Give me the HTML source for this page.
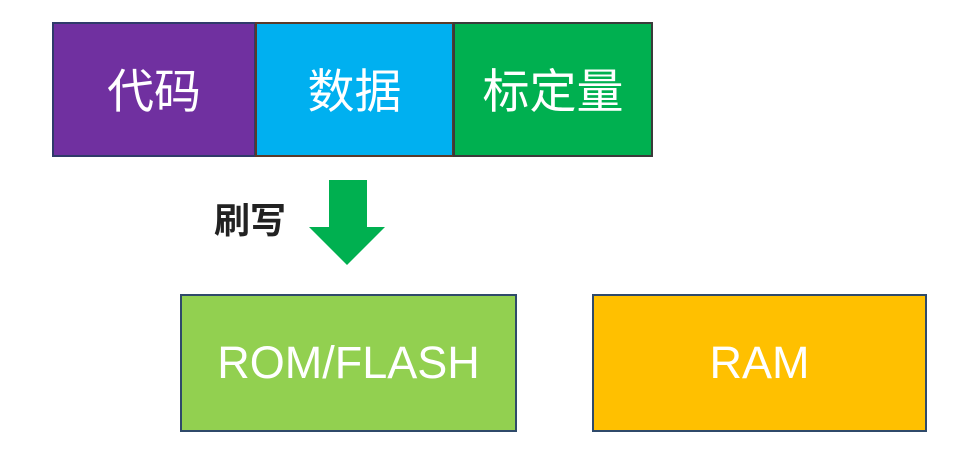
<!DOCTYPE html>
<html><head><meta charset="utf-8"><style>
body{margin:0;width:970px;height:457px;background:#fff;position:relative;overflow:hidden;font-family:"Liberation Sans","Noto Sans CJK SC",sans-serif}
.b{position:absolute;box-sizing:border-box;display:flex;align-items:center;justify-content:center;color:#fff}
.t{font-size:47px;padding-bottom:4px}
</style></head><body>
<div class="b t" style="left:52px;top:22px;width:204px;height:135px;background:#7030a0;border:2px solid #2f3a6a;">代码</div>
<div class="b t" style="left:255px;top:22px;width:199px;height:135px;background:#00b0f0;border:2px solid #5a3a2a;">数据</div>
<div class="b t" style="left:453px;top:22px;width:200px;height:135px;background:#00b050;border:2px solid #3a3a3a;">标定量</div>
<div style="position:absolute;left:214px;top:192px;font-size:36px;font-weight:bold;color:#222">刷写</div>
<svg style="position:absolute;left:0;top:0" width="970" height="457"><polygon points="329,180 367,180 367,227 385,227 347,265 309,227 329,227" fill="#00b050"/></svg>
<div class="b" style="left:180px;top:294px;width:337px;height:138px;background:#92d050;border:2px solid #2f4a6a;font-size:45px">ROM/FLASH</div>
<div class="b" style="left:592px;top:294px;width:335px;height:138px;background:#ffc000;border:2px solid #2f4a6a;font-size:45px">RAM</div>
</body></html>
